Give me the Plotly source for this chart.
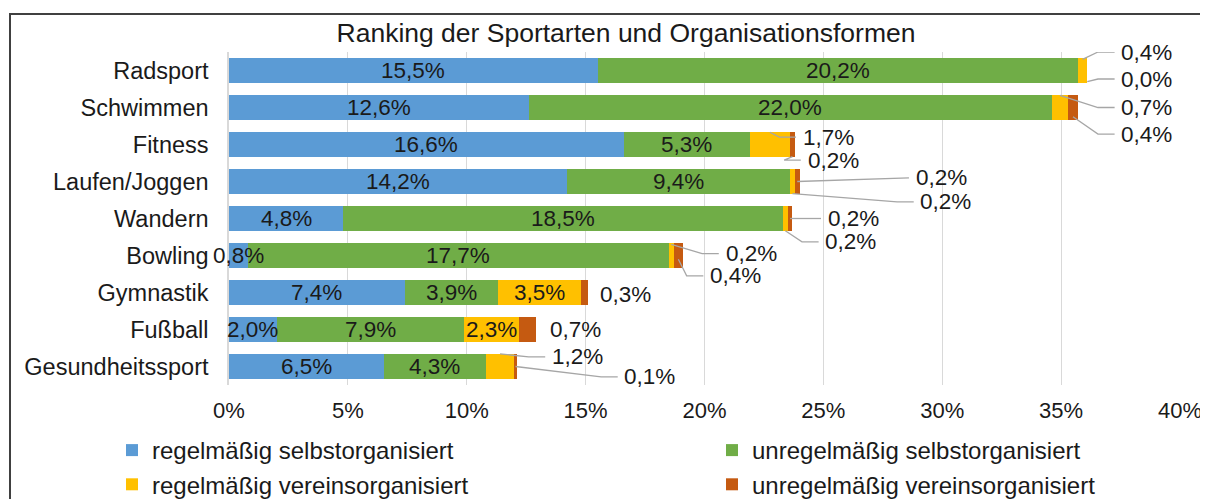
import plotly.graph_objects as go

# ---------------- data ----------------
categories = ["Radsport", "Schwimmen", "Fitness", "Laufen/Joggen", "Wandern",
              "Bowling", "Gymnastik", "Fußball", "Gesundheitssport"]
series_names = ["regelmäßig selbstorganisiert", "unregelmäßig selbstorganisiert",
                "regelmäßig vereinsorganisiert", "unregelmäßig vereinsorganisiert"]
regel_selbst = [15.5, 12.6, 16.6, 14.2, 4.8, 0.8, 7.4, 2.0, 6.5]
unregel_selbst = [20.2, 22.0, 5.3, 9.4, 18.5, 17.7, 3.9, 7.9, 4.3]
regel_verein = [0.4, 0.7, 1.7, 0.2, 0.2, 0.2, 3.5, 2.3, 1.2]
unregel_verein = [0.0, 0.4, 0.2, 0.2, 0.2, 0.4, 0.3, 0.7, 0.1]
x_ticks = [0, 5, 10, 15, 20, 25, 30, 35, 40]
x_tick_labels = [f"{t}%" for t in x_ticks]

# ---------------- styles ----------------
colors = ["#5B9BD5", "#70AD47", "#FFC000", "#C55A11"]
legend_of = ["legend", "legend2", "legend", "legend2"]
FONT = "Liberation Sans, Arial, sans-serif"
TXT = "#1a1a1a"
LEADER = "#A6A6A6"

series = [regel_selbst, unregel_selbst, regel_verein, unregel_verein]
# which yellow segments carry their label inside the bar
inside_yellow = {6, 7}

# outside labels: (row, series, label-left x in %, label dy, anchor dy or None)
outside = [
    (0, 2, 37.45, -0.50, -0.30), (0, 3, 37.45, 0.23, 0.30),
    (1, 2, 37.45, 0.00, -0.33), (1, 3, 37.45, 0.72, 0.25),
    (2, 2, 24.05, -0.20, -0.33), (2, 3, 24.25, 0.42, 0.33),
    (3, 3, 28.80, -0.10, 0.00), (3, 2, 29.00, 0.55, 0.33),
    (4, 3, 25.10, 0.00, 0.00), (4, 2, 25.00, 0.63, 0.33),
    (5, 2, 20.80, -0.05, -0.30), (5, 3, 20.15, 0.55, 0.10),
    (6, 3, 15.50, 0.05, None),
    (7, 3, 13.40, 0.00, None),
    (8, 2, 13.50, -0.26, -0.34), (8, 3, 16.55, 0.28, 0.00),
]


def fmt(v):
    return f"{v:.1f}".replace(".", ",") + "%"


rows = list(range(len(categories)))
fig = go.Figure()
for i, (name, vals, col) in enumerate(zip(series_names, series, colors)):
    fig.add_trace(go.Bar(
        y=rows, x=vals, name=name, orientation="h",
        marker=dict(color=col, line=dict(width=0)),
        width=0.65, hoverinfo="skip",
        legend=legend_of[i], legendgroup=f"g{i}",
    ))

# cumulative starts
starts = []
acc = [0.0] * len(categories)
for vals in series:
    starts.append(acc[:])
    acc = [a + v for a, v in zip(acc, vals)]

LBL = 22.5
annotations = []
for s, vals in enumerate(series):
    for r, v in enumerate(vals):
        inside = s in (0, 1) or (s == 2 and r in inside_yellow)
        if inside:
            annotations.append(dict(
                x=starts[s][r] + v / 2, y=r, xref="x", yref="y",
                text=fmt(v), showarrow=False,
                font=dict(family=FONT, size=LBL, color=TXT),
                xanchor="center", yanchor="middle",
            ))

for (r, s, lx, ldy, ady) in outside:
    v = series[s][r]
    annotations.append(dict(
        x=lx, y=r + ldy, xref="x", yref="y", text=fmt(v), showarrow=False,
        font=dict(family=FONT, size=LBL, color=TXT),
        xanchor="left", yanchor="middle",
    ))
    if ady is not None:
        ax = starts[s][r] + v / 2
        fig.add_trace(go.Scatter(
            x=[ax, lx - 0.9, lx - 0.2], y=[r + ady, r + ldy, r + ldy],
            mode="lines", line=dict(color=LEADER, width=1.3),
            showlegend=False, hoverinfo="skip", cliponaxis=False,
        ))

# page body has an 8px offset; geometry below is in figure pixels
W, H = 1208, 499
ml, mr, mt, mb = 221, 36, 44, 122
pw, ph = W - ml - mr, H - mt - mb

# outer chart border (right and bottom edges lie outside the view)
shapes = [dict(
    type="rect", xref="paper", yref="paper",
    x0=(2 - ml) / pw, x1=(W + 10 - ml) / pw,
    y0=(H - mb - (H + 10)) / ph, y1=(H - mb - 6) / ph,
    line=dict(color="#404040", width=2), fillcolor="rgba(0,0,0,0)", layer="below",
)]

legend_common = dict(
    orientation="v", xref="container", yref="container",
    xanchor="left", yanchor="top", y=1 - 420 / H,
    font=dict(family=FONT, size=24, color=TXT),
    bgcolor="rgba(0,0,0,0)", tracegroupgap=0, traceorder="grouped",
)

fig.update_layout(
    width=W, height=H,
    margin=dict(l=ml, r=mr, t=mt, b=mb, autoexpand=False),
    barmode="stack",
    plot_bgcolor="white", paper_bgcolor="white",
    font=dict(family=FONT, color=TXT),
    title=dict(text="Ranking der Sportarten und Organisationsformen",
               font=dict(family=FONT, size=26.5, color=TXT),
               x=618 / W, xref="container", xanchor="center",
               y=1 - 25 / H, yref="container", yanchor="middle"),
    xaxis=dict(range=[0, 40], tickvals=x_ticks, ticktext=x_tick_labels,
               showgrid=True, gridcolor="#D9D9D9", gridwidth=1.3,
               zeroline=False, showline=False, automargin=False,
               tickfont=dict(family=FONT, size=22, color=TXT),
               ticks="outside", ticklen=6, tickcolor="rgba(0,0,0,0)"),
    yaxis=dict(range=[8.5, -0.5], tickvals=rows, ticktext=categories,
               showgrid=False, zeroline=False, automargin=False,
               showline=True, linecolor="#D9D9D9", linewidth=1.5,
               tickfont=dict(family=FONT, size=23.5, color=TXT),
               ticks="outside", ticklen=14, tickcolor="rgba(0,0,0,0)"),
    legend=dict(x=104 / W, **legend_common),
    legend2=dict(x=704 / W, **legend_common),
    annotations=annotations,
    shapes=shapes,
    showlegend=True,
)

fig.write_html("out.html")
